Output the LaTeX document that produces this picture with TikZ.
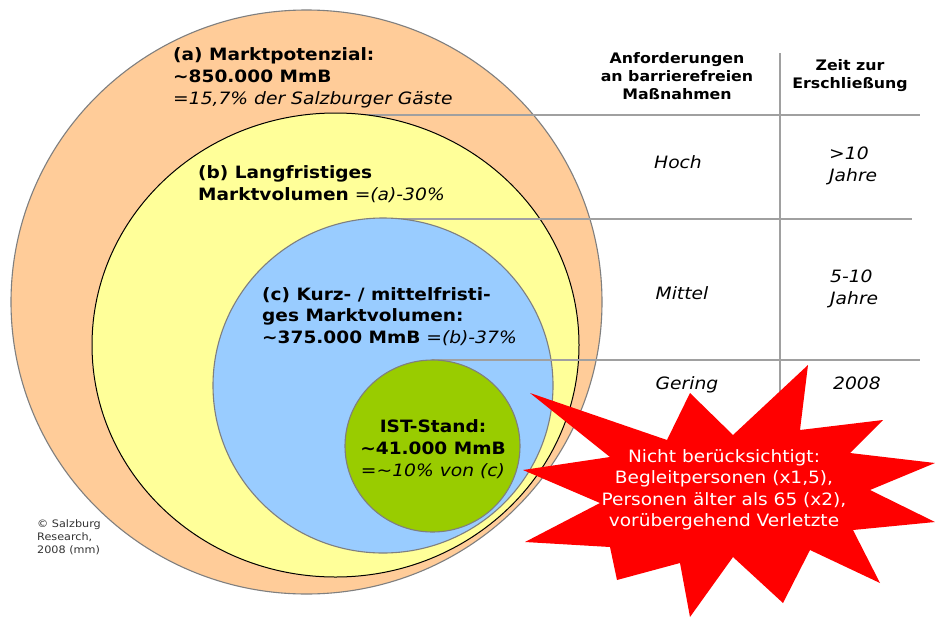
\documentclass[tikz,border=0pt]{standalone}
\usepackage{fontspec}
\setmainfont{DejaVu Sans}[FakeStretch=1.09, ItalicFeatures={FakeStretch=1.1}]
\usetikzlibrary{shapes.geometric}
\definecolor{cOrange}{HTML}{FFCC99}
\definecolor{cYellow}{HTML}{FFFF99}
\definecolor{cBlue}{HTML}{99CCFF}
\definecolor{cGreen}{HTML}{99CC00}
\definecolor{cRed}{HTML}{FF0000}
\definecolor{cLine}{HTML}{A0A0A0}
\definecolor{cEdge}{HTML}{7F7F7F}
\begin{document}
\begin{tikzpicture}[x=1pt,y=-1pt,
  ring/.style={ellipse, inner sep=0pt, draw=cEdge, line width=1.1pt},
  rule/.style={draw=cLine, line width=1.3pt},
  lbl/.style={inner sep=0pt, align=left, anchor=north west, font=\fontsize{17}{22}\selectfont},
  hdr/.style={inner sep=0pt, align=center, font=\bfseries\fontsize{14.5}{18}\selectfont},
  cell/.style={inner sep=0pt, align=left, font=\itshape\fontsize{17}{22}\selectfont},
]
\useasboundingbox (0,0) rectangle (935,619);
\fill[white] (0,0) rectangle (935,619);
% circles and rules
\node[ring, fill=cOrange, minimum width=591pt, minimum height=584pt] (potA) at (306.5,302) {};
\coordinate (r1a) at (335,115); \coordinate (r1b) at (920,115);
\draw[rule] (r1a) -- (r1b);
\node[ring, fill=cYellow, draw=black, line width=1pt, minimum width=487pt, minimum height=464pt] (volB) at (335.5,345) {};
\coordinate (r2a) at (383,219); \coordinate (r2b) at (912,219);
\draw[rule] (r2a) -- (r2b);
\node[ring, fill=cBlue, minimum width=340pt, minimum height=335pt] (volC) at (383,385.5) {};
\coordinate (r3a) at (432,360); \coordinate (r3b) at (920,360);
\draw[rule] (r3a) -- (r3b);
\node[ring, fill=cGreen, minimum width=175pt, minimum height=172pt] (ist) at (432.5,446) {};
\coordinate (v1) at (780,53); \coordinate (v2) at (780,420);
\draw[rule] (v1) -- (v2);
% labels in circles
\node[lbl] (ta) at (173,47) {\textbf{(a) Marktpotenzial:}\\\textbf{\textasciitilde850.000 MmB}\\\textit{=15,7\% der Salzburger Gäste}};
\node[lbl] (tb) at (198,165) {\textbf{(b) Langfristiges}\\\textbf{Marktvolumen} \textit{=(a)-30\%}};
\node[lbl, font=\fontsize{17}{21.5}\selectfont] (tc) at (262,287) {\textbf{(c) Kurz- / mittelfristi-}\\\textbf{ges Marktvolumen:}\\\textbf{\textasciitilde375.000 MmB} \textit{=(b)-37\%}};
\node[inner sep=0pt, align=center, font=\fontsize{17}{22}\selectfont] (td) at (433,449) {\textbf{IST-Stand:}\\\textbf{\textasciitilde41.000 MmB}\\\textit{=\textasciitilde10\% von (c)}};
% table
\node[hdr] (h1) at (677,76) {Anforderungen\\an barrierefreien\\Maßnahmen};
\node[hdr] (h2) at (850,76) {Zeit zur\\Erschließung};
\node[cell] (c11) at (678,162) {Hoch};
\node[cell, anchor=west] (c12) at (829,166) {>10\\Jahre};
\node[cell] (c21) at (682,293) {Mittel};
\node[cell, anchor=west] (c22) at (830,289) {5-10\\Jahre};
\node[cell] (c31) at (687,385) {Gering};
\node[cell] (c32) at (857,383) {2008};
% copyright
\node[inner sep=0pt, align=left, anchor=north west, text=black!80, font=\fontsize{10.3}{13}\selectfont] (copy) at (37,519) {© Salzburg\\Research,\\2008 (mm)};
% star
\fill[cRed] (530,393) -- (667,440) -- (690,393) -- (733,435) -- (808,365) -- (800,430)
  -- (883,420) -- (850,453) -- (935,463) -- (870,490) -- (935,522) -- (853,530)
  -- (880,583) -- (810,550) -- (783,603) -- (733,557) -- (690,617) -- (680,563)
  -- (617,580) -- (610,547) -- (525,542) -- (600,503) -- (523,470) -- (610,457) -- cycle;
\node[inner sep=0pt, align=center, text=white, font=\fontsize{17}{21.5}\selectfont] (note) at (724,490) {Nicht berücksichtigt:\\Begleitpersonen (x1,5),\\Personen älter als 65 (x2),\\vorübergehend Verletzte};
\end{tikzpicture}
\end{document}
